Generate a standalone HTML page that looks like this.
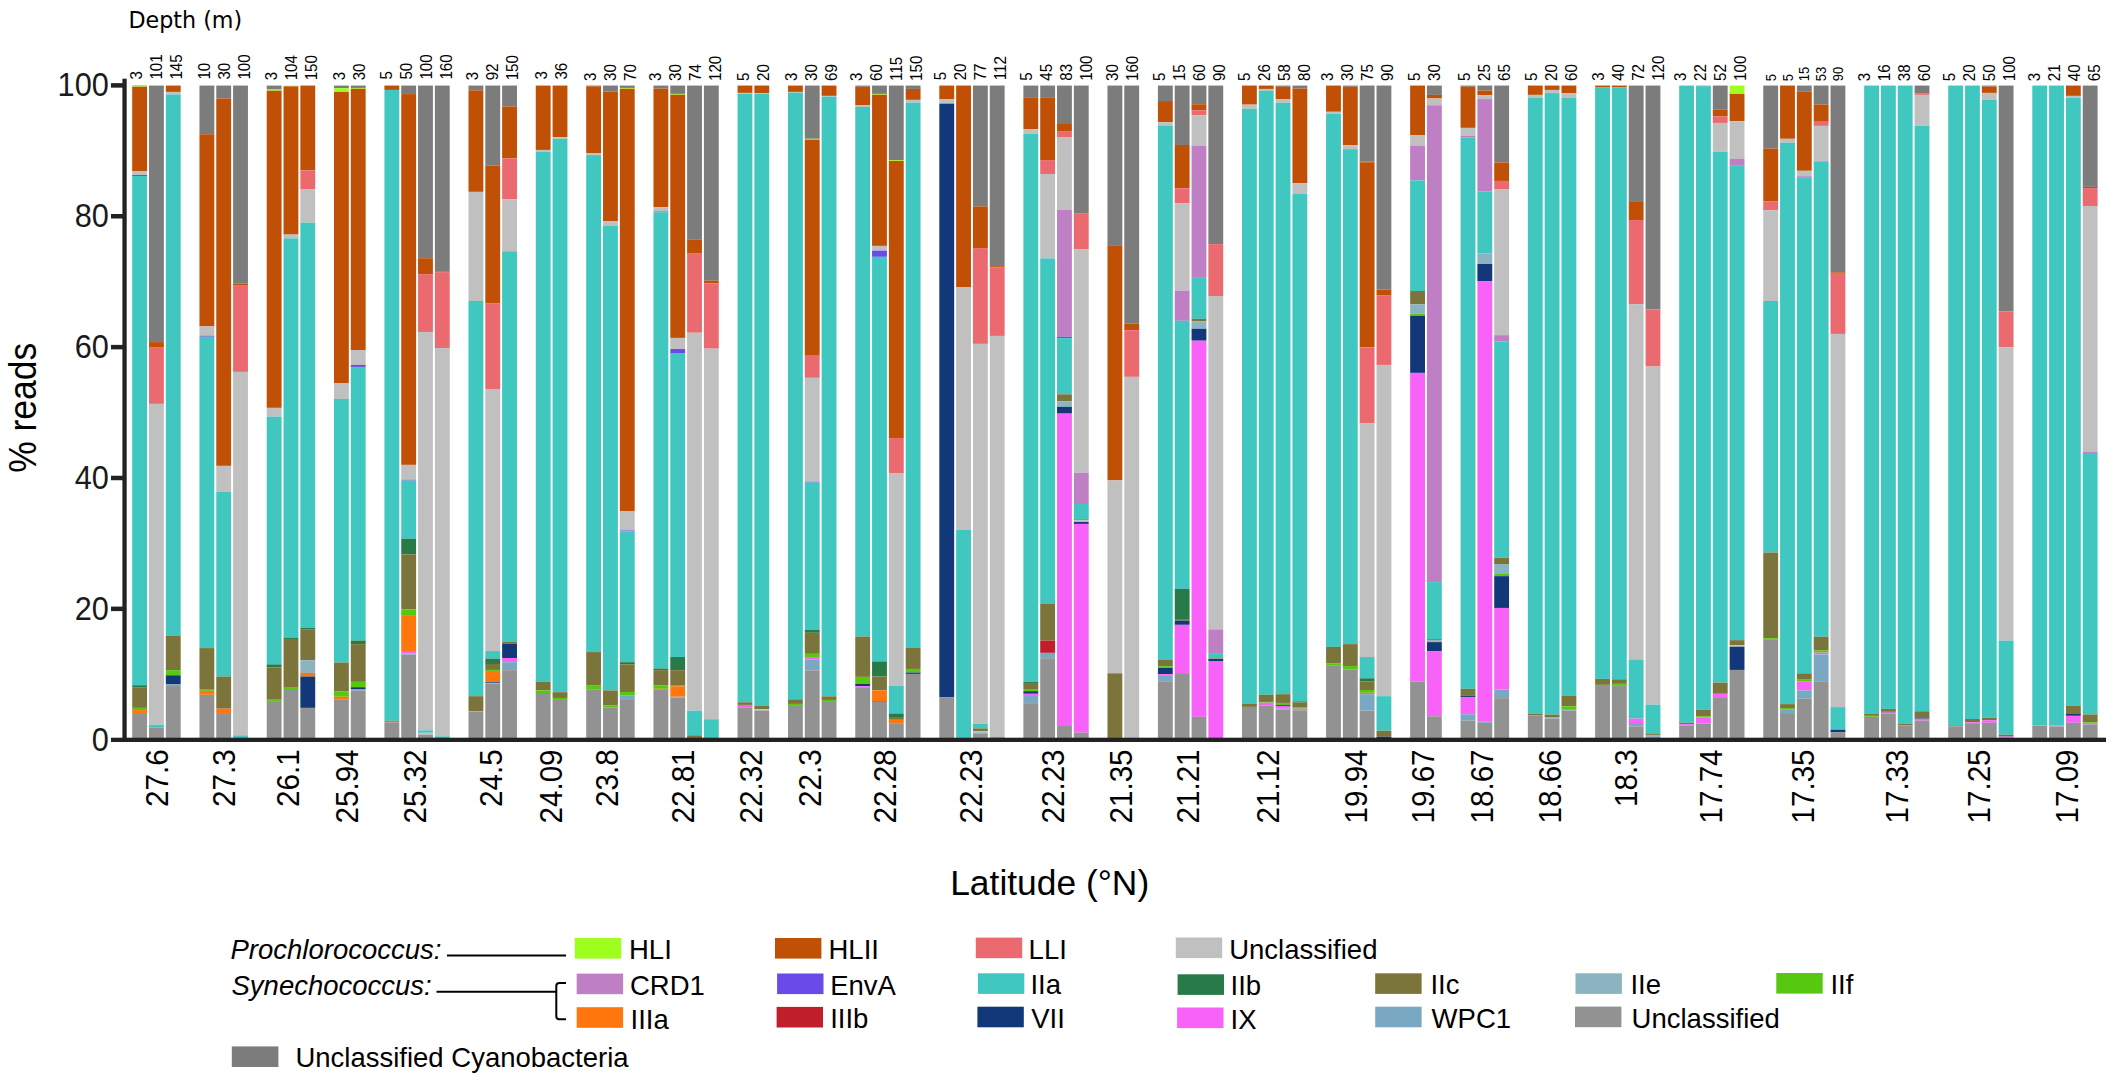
<!DOCTYPE html>
<html lang="en"><head><meta charset="utf-8"><title>Cyanobacteria clade composition by latitude</title>
<style>html,body{margin:0;padding:0;background:#fff}svg{display:block}text{font-family:"Liberation Sans",Arial,sans-serif;fill:#000}.dv{font-family:"DejaVu Sans","Liberation Sans",sans-serif}.it{font-style:italic}</style></head><body>
<svg width="2114" height="1082" viewBox="0 0 2114 1082">
<rect width="2114" height="1082" fill="#ffffff"/>
<g id="bars">
<rect x="132.20" y="85.56" width="14.85" height="0.60" fill="#7c7c7c"/>
<rect x="132.20" y="86.16" width="14.85" height="0.60" fill="#9eff1e"/>
<rect x="132.20" y="86.76" width="14.85" height="84.24" fill="#c05005"/>
<rect x="132.20" y="171.00" width="14.85" height="3.97" fill="#c0c0c0"/>
<rect x="132.20" y="174.97" width="14.85" height="0.99" fill="#6a4ae8"/>
<rect x="132.20" y="175.97" width="14.85" height="509.28" fill="#40c7bf"/>
<rect x="132.20" y="685.24" width="14.85" height="1.99" fill="#287a48"/>
<rect x="132.20" y="687.23" width="14.85" height="20.66" fill="#7b753c"/>
<rect x="132.20" y="707.89" width="14.85" height="2.19" fill="#55c80f"/>
<rect x="132.20" y="710.08" width="14.85" height="2.98" fill="#ff760d"/>
<rect x="132.20" y="713.06" width="14.85" height="26.94" fill="#929292"/>
<rect x="149.01" y="85.56" width="14.85" height="256.53" fill="#7c7c7c"/>
<rect x="149.01" y="342.09" width="14.85" height="4.97" fill="#c05005"/>
<rect x="149.01" y="347.06" width="14.85" height="56.82" fill="#ea6a70"/>
<rect x="149.01" y="403.88" width="14.85" height="320.89" fill="#c0c0c0"/>
<rect x="149.01" y="724.77" width="14.85" height="2.98" fill="#40c7bf"/>
<rect x="149.01" y="727.75" width="14.85" height="12.25" fill="#929292"/>
<rect x="165.83" y="85.56" width="14.85" height="6.36" fill="#c05005"/>
<rect x="165.83" y="91.92" width="14.85" height="2.58" fill="#c0c0c0"/>
<rect x="165.83" y="94.50" width="14.85" height="541.07" fill="#40c7bf"/>
<rect x="165.83" y="635.57" width="14.85" height="34.57" fill="#7b753c"/>
<rect x="165.83" y="670.14" width="14.85" height="5.17" fill="#55c80f"/>
<rect x="165.83" y="675.31" width="14.85" height="8.74" fill="#12387a"/>
<rect x="165.83" y="684.05" width="14.85" height="1.99" fill="#7aa7c2"/>
<rect x="165.83" y="686.04" width="14.85" height="53.96" fill="#929292"/>
<rect x="199.46" y="85.56" width="14.85" height="48.68" fill="#7c7c7c"/>
<rect x="199.46" y="134.24" width="14.85" height="192.15" fill="#c05005"/>
<rect x="199.46" y="326.39" width="14.85" height="9.34" fill="#c0c0c0"/>
<rect x="199.46" y="335.73" width="14.85" height="0.99" fill="#6a4ae8"/>
<rect x="199.46" y="336.72" width="14.85" height="311.36" fill="#40c7bf"/>
<rect x="199.46" y="648.09" width="14.85" height="40.93" fill="#7b753c"/>
<rect x="199.46" y="689.02" width="14.85" height="1.79" fill="#55c80f"/>
<rect x="199.46" y="690.81" width="14.85" height="3.97" fill="#ff760d"/>
<rect x="199.46" y="694.78" width="14.85" height="45.22" fill="#929292"/>
<rect x="216.27" y="85.56" width="14.85" height="12.91" fill="#7c7c7c"/>
<rect x="216.27" y="98.48" width="14.85" height="367.39" fill="#c05005"/>
<rect x="216.27" y="465.87" width="14.85" height="25.83" fill="#c0c0c0"/>
<rect x="216.27" y="491.70" width="14.85" height="184.80" fill="#40c7bf"/>
<rect x="216.27" y="676.50" width="14.85" height="32.19" fill="#7b753c"/>
<rect x="216.27" y="708.69" width="14.85" height="4.37" fill="#ff760d"/>
<rect x="216.27" y="713.06" width="14.85" height="26.94" fill="#929292"/>
<rect x="233.09" y="85.56" width="14.85" height="198.09" fill="#7c7c7c"/>
<rect x="233.09" y="283.66" width="14.85" height="1.39" fill="#c05005"/>
<rect x="233.09" y="285.05" width="14.85" height="86.85" fill="#ea6a70"/>
<rect x="233.09" y="371.89" width="14.85" height="363.41" fill="#c0c0c0"/>
<rect x="233.09" y="735.30" width="14.85" height="4.70" fill="#40c7bf"/>
<rect x="266.72" y="85.56" width="14.85" height="3.97" fill="#7c7c7c"/>
<rect x="266.72" y="89.54" width="14.85" height="1.19" fill="#9eff1e"/>
<rect x="266.72" y="90.73" width="14.85" height="317.13" fill="#c05005"/>
<rect x="266.72" y="407.86" width="14.85" height="8.74" fill="#c0c0c0"/>
<rect x="266.72" y="416.60" width="14.85" height="247.78" fill="#40c7bf"/>
<rect x="266.72" y="664.38" width="14.85" height="2.98" fill="#287a48"/>
<rect x="266.72" y="667.36" width="14.85" height="32.39" fill="#7b753c"/>
<rect x="266.72" y="699.75" width="14.85" height="1.19" fill="#55c80f"/>
<rect x="266.72" y="700.94" width="14.85" height="0.99" fill="#ff760d"/>
<rect x="266.72" y="701.93" width="14.85" height="38.07" fill="#929292"/>
<rect x="283.53" y="85.56" width="14.85" height="0.79" fill="#9eff1e"/>
<rect x="283.53" y="86.36" width="14.85" height="148.22" fill="#c05005"/>
<rect x="283.53" y="234.58" width="14.85" height="3.78" fill="#c0c0c0"/>
<rect x="283.53" y="238.35" width="14.85" height="399.20" fill="#40c7bf"/>
<rect x="283.53" y="637.56" width="14.85" height="1.39" fill="#287a48"/>
<rect x="283.53" y="638.95" width="14.85" height="48.08" fill="#7b753c"/>
<rect x="283.53" y="687.03" width="14.85" height="1.99" fill="#55c80f"/>
<rect x="283.53" y="689.02" width="14.85" height="50.98" fill="#929292"/>
<rect x="300.35" y="85.56" width="14.85" height="84.84" fill="#c05005"/>
<rect x="300.35" y="170.40" width="14.85" height="18.68" fill="#ea6a70"/>
<rect x="300.35" y="189.08" width="14.85" height="33.58" fill="#c0c0c0"/>
<rect x="300.35" y="222.66" width="14.85" height="405.16" fill="#40c7bf"/>
<rect x="300.35" y="627.82" width="14.85" height="1.39" fill="#287a48"/>
<rect x="300.35" y="629.21" width="14.85" height="31.00" fill="#7b753c"/>
<rect x="300.35" y="660.21" width="14.85" height="12.72" fill="#8bb3c0"/>
<rect x="300.35" y="672.92" width="14.85" height="3.58" fill="#ff760d"/>
<rect x="300.35" y="676.50" width="14.85" height="31.39" fill="#12387a"/>
<rect x="300.35" y="707.89" width="14.85" height="32.11" fill="#929292"/>
<rect x="333.98" y="85.56" width="14.85" height="2.58" fill="#7c7c7c"/>
<rect x="333.98" y="88.15" width="14.85" height="3.78" fill="#9eff1e"/>
<rect x="333.98" y="91.92" width="14.85" height="291.10" fill="#c05005"/>
<rect x="333.98" y="383.02" width="14.85" height="15.90" fill="#c0c0c0"/>
<rect x="333.98" y="398.91" width="14.85" height="263.68" fill="#40c7bf"/>
<rect x="333.98" y="662.59" width="14.85" height="28.61" fill="#7b753c"/>
<rect x="333.98" y="691.20" width="14.85" height="5.56" fill="#55c80f"/>
<rect x="333.98" y="696.77" width="14.85" height="2.98" fill="#ff760d"/>
<rect x="333.98" y="699.75" width="14.85" height="40.25" fill="#929292"/>
<rect x="350.80" y="85.56" width="14.85" height="2.38" fill="#7c7c7c"/>
<rect x="350.80" y="87.95" width="14.85" height="0.79" fill="#9eff1e"/>
<rect x="350.80" y="88.74" width="14.85" height="261.29" fill="#c05005"/>
<rect x="350.80" y="350.04" width="14.85" height="14.90" fill="#c0c0c0"/>
<rect x="350.80" y="364.94" width="14.85" height="1.99" fill="#6a4ae8"/>
<rect x="350.80" y="366.93" width="14.85" height="273.61" fill="#40c7bf"/>
<rect x="350.80" y="640.54" width="14.85" height="3.58" fill="#287a48"/>
<rect x="350.80" y="644.11" width="14.85" height="37.75" fill="#7b753c"/>
<rect x="350.80" y="681.87" width="14.85" height="5.36" fill="#55c80f"/>
<rect x="350.80" y="687.23" width="14.85" height="1.79" fill="#12387a"/>
<rect x="350.80" y="689.02" width="14.85" height="1.39" fill="#7aa7c2"/>
<rect x="350.80" y="690.41" width="14.85" height="49.59" fill="#929292"/>
<rect x="384.43" y="85.56" width="14.85" height="4.37" fill="#c05005"/>
<rect x="384.43" y="89.93" width="14.85" height="630.86" fill="#40c7bf"/>
<rect x="384.43" y="720.80" width="14.85" height="0.99" fill="#7b753c"/>
<rect x="384.43" y="721.79" width="14.85" height="0.60" fill="#ff760d"/>
<rect x="384.43" y="722.39" width="14.85" height="17.61" fill="#929292"/>
<rect x="401.24" y="85.56" width="14.85" height="8.54" fill="#7c7c7c"/>
<rect x="401.24" y="94.11" width="14.85" height="370.77" fill="#c05005"/>
<rect x="401.24" y="464.88" width="14.85" height="14.90" fill="#c0c0c0"/>
<rect x="401.24" y="479.78" width="14.85" height="0.79" fill="#6a4ae8"/>
<rect x="401.24" y="480.58" width="14.85" height="58.23" fill="#40c7bf"/>
<rect x="401.24" y="538.81" width="14.85" height="15.50" fill="#287a48"/>
<rect x="401.24" y="554.31" width="14.85" height="55.04" fill="#7b753c"/>
<rect x="401.24" y="609.34" width="14.85" height="5.76" fill="#55c80f"/>
<rect x="401.24" y="615.11" width="14.85" height="36.76" fill="#ff760d"/>
<rect x="401.24" y="651.86" width="14.85" height="1.59" fill="#f962f8"/>
<rect x="401.24" y="653.45" width="14.85" height="1.19" fill="#7aa7c2"/>
<rect x="401.24" y="654.65" width="14.85" height="85.35" fill="#929292"/>
<rect x="418.06" y="85.56" width="14.85" height="172.66" fill="#7c7c7c"/>
<rect x="418.06" y="258.22" width="14.85" height="15.90" fill="#c05005"/>
<rect x="418.06" y="274.12" width="14.85" height="57.84" fill="#ea6a70"/>
<rect x="418.06" y="331.96" width="14.85" height="398.38" fill="#c0c0c0"/>
<rect x="418.06" y="730.33" width="14.85" height="2.38" fill="#40c7bf"/>
<rect x="418.06" y="732.72" width="14.85" height="0.99" fill="#8bb3c0"/>
<rect x="418.06" y="733.71" width="14.85" height="0.99" fill="#c0c0c0"/>
<rect x="418.06" y="734.70" width="14.85" height="5.30" fill="#929292"/>
<rect x="434.87" y="85.56" width="14.85" height="185.77" fill="#7c7c7c"/>
<rect x="434.87" y="271.34" width="14.85" height="0.79" fill="#c05005"/>
<rect x="434.87" y="272.13" width="14.85" height="75.92" fill="#ea6a70"/>
<rect x="434.87" y="348.05" width="14.85" height="388.24" fill="#c0c0c0"/>
<rect x="434.87" y="736.29" width="14.85" height="3.71" fill="#40c7bf"/>
<rect x="468.50" y="85.56" width="14.85" height="4.77" fill="#7c7c7c"/>
<rect x="468.50" y="90.33" width="14.85" height="101.53" fill="#c05005"/>
<rect x="468.50" y="191.86" width="14.85" height="109.10" fill="#c0c0c0"/>
<rect x="468.50" y="300.96" width="14.85" height="395.21" fill="#40c7bf"/>
<rect x="468.50" y="696.17" width="14.85" height="15.10" fill="#7b753c"/>
<rect x="468.50" y="711.27" width="14.85" height="0.60" fill="#7aa7c2"/>
<rect x="468.50" y="711.87" width="14.85" height="28.13" fill="#929292"/>
<rect x="485.31" y="85.56" width="14.85" height="79.87" fill="#7c7c7c"/>
<rect x="485.31" y="165.44" width="14.85" height="137.71" fill="#c05005"/>
<rect x="485.31" y="303.15" width="14.85" height="85.83" fill="#ea6a70"/>
<rect x="485.31" y="388.98" width="14.85" height="262.09" fill="#c0c0c0"/>
<rect x="485.31" y="651.07" width="14.85" height="7.55" fill="#40c7bf"/>
<rect x="485.31" y="658.62" width="14.85" height="5.36" fill="#287a48"/>
<rect x="485.31" y="663.98" width="14.85" height="5.96" fill="#7b753c"/>
<rect x="485.31" y="669.94" width="14.85" height="0.99" fill="#55c80f"/>
<rect x="485.31" y="670.94" width="14.85" height="11.13" fill="#ff760d"/>
<rect x="485.31" y="682.06" width="14.85" height="0.79" fill="#12387a"/>
<rect x="485.31" y="682.86" width="14.85" height="0.79" fill="#7aa7c2"/>
<rect x="485.31" y="683.65" width="14.85" height="56.35" fill="#929292"/>
<rect x="502.13" y="85.56" width="14.85" height="20.86" fill="#7c7c7c"/>
<rect x="502.13" y="106.43" width="14.85" height="52.06" fill="#c05005"/>
<rect x="502.13" y="158.48" width="14.85" height="40.73" fill="#ea6a70"/>
<rect x="502.13" y="199.21" width="14.85" height="52.06" fill="#c0c0c0"/>
<rect x="502.13" y="251.27" width="14.85" height="390.26" fill="#40c7bf"/>
<rect x="502.13" y="641.53" width="14.85" height="2.19" fill="#7b753c"/>
<rect x="502.13" y="643.72" width="14.85" height="14.31" fill="#12387a"/>
<rect x="502.13" y="658.02" width="14.85" height="4.17" fill="#f962f8"/>
<rect x="502.13" y="662.20" width="14.85" height="7.95" fill="#7aa7c2"/>
<rect x="502.13" y="670.14" width="14.85" height="69.86" fill="#929292"/>
<rect x="535.76" y="85.56" width="14.85" height="64.38" fill="#c05005"/>
<rect x="535.76" y="149.94" width="14.85" height="1.99" fill="#c0c0c0"/>
<rect x="535.76" y="151.93" width="14.85" height="529.74" fill="#40c7bf"/>
<rect x="535.76" y="681.67" width="14.85" height="8.74" fill="#7b753c"/>
<rect x="535.76" y="690.41" width="14.85" height="2.58" fill="#55c80f"/>
<rect x="535.76" y="692.99" width="14.85" height="47.01" fill="#929292"/>
<rect x="552.58" y="85.56" width="14.85" height="51.66" fill="#c05005"/>
<rect x="552.58" y="137.22" width="14.85" height="1.39" fill="#c0c0c0"/>
<rect x="552.58" y="138.61" width="14.85" height="553.58" fill="#40c7bf"/>
<rect x="552.58" y="692.20" width="14.85" height="5.76" fill="#7b753c"/>
<rect x="552.58" y="697.96" width="14.85" height="1.99" fill="#55c80f"/>
<rect x="552.58" y="699.95" width="14.85" height="40.05" fill="#929292"/>
<rect x="586.21" y="85.56" width="14.85" height="0.79" fill="#7c7c7c"/>
<rect x="586.21" y="86.36" width="14.85" height="66.76" fill="#c05005"/>
<rect x="586.21" y="153.12" width="14.85" height="1.99" fill="#c0c0c0"/>
<rect x="586.21" y="155.10" width="14.85" height="496.96" fill="#40c7bf"/>
<rect x="586.21" y="652.06" width="14.85" height="33.58" fill="#7b753c"/>
<rect x="586.21" y="685.64" width="14.85" height="3.58" fill="#55c80f"/>
<rect x="586.21" y="689.22" width="14.85" height="50.78" fill="#929292"/>
<rect x="603.02" y="85.56" width="14.85" height="5.96" fill="#7c7c7c"/>
<rect x="603.02" y="91.52" width="14.85" height="129.55" fill="#c05005"/>
<rect x="603.02" y="221.07" width="14.85" height="4.57" fill="#c0c0c0"/>
<rect x="603.02" y="225.64" width="14.85" height="464.77" fill="#40c7bf"/>
<rect x="603.02" y="690.41" width="14.85" height="15.10" fill="#7b753c"/>
<rect x="603.02" y="705.51" width="14.85" height="1.79" fill="#55c80f"/>
<rect x="603.02" y="707.30" width="14.85" height="32.70" fill="#929292"/>
<rect x="619.84" y="85.56" width="14.85" height="2.38" fill="#7c7c7c"/>
<rect x="619.84" y="87.95" width="14.85" height="0.79" fill="#9eff1e"/>
<rect x="619.84" y="88.74" width="14.85" height="422.25" fill="#c05005"/>
<rect x="619.84" y="510.99" width="14.85" height="19.47" fill="#c0c0c0"/>
<rect x="619.84" y="530.46" width="14.85" height="0.79" fill="#6a4ae8"/>
<rect x="619.84" y="531.26" width="14.85" height="130.94" fill="#40c7bf"/>
<rect x="619.84" y="662.20" width="14.85" height="2.19" fill="#287a48"/>
<rect x="619.84" y="664.38" width="14.85" height="27.62" fill="#7b753c"/>
<rect x="619.84" y="692.00" width="14.85" height="3.18" fill="#55c80f"/>
<rect x="619.84" y="695.18" width="14.85" height="3.97" fill="#7aa7c2"/>
<rect x="619.84" y="699.15" width="14.85" height="40.85" fill="#929292"/>
<rect x="653.46" y="85.56" width="14.85" height="2.98" fill="#7c7c7c"/>
<rect x="653.46" y="88.54" width="14.85" height="118.62" fill="#c05005"/>
<rect x="653.46" y="207.16" width="14.85" height="4.37" fill="#c0c0c0"/>
<rect x="653.46" y="211.53" width="14.85" height="0.79" fill="#6a4ae8"/>
<rect x="653.46" y="212.33" width="14.85" height="456.23" fill="#40c7bf"/>
<rect x="653.46" y="668.55" width="14.85" height="1.59" fill="#287a48"/>
<rect x="653.46" y="670.14" width="14.85" height="15.10" fill="#7b753c"/>
<rect x="653.46" y="685.24" width="14.85" height="3.58" fill="#55c80f"/>
<rect x="653.46" y="688.82" width="14.85" height="0.99" fill="#ff760d"/>
<rect x="653.46" y="689.81" width="14.85" height="50.19" fill="#929292"/>
<rect x="670.28" y="85.56" width="14.85" height="8.34" fill="#7c7c7c"/>
<rect x="670.28" y="93.91" width="14.85" height="0.79" fill="#9eff1e"/>
<rect x="670.28" y="94.70" width="14.85" height="243.21" fill="#c05005"/>
<rect x="670.28" y="337.92" width="14.85" height="11.13" fill="#c0c0c0"/>
<rect x="670.28" y="349.04" width="14.85" height="3.97" fill="#6a4ae8"/>
<rect x="670.28" y="353.02" width="14.85" height="304.01" fill="#40c7bf"/>
<rect x="670.28" y="657.03" width="14.85" height="13.11" fill="#287a48"/>
<rect x="670.28" y="670.14" width="14.85" height="14.90" fill="#7b753c"/>
<rect x="670.28" y="685.04" width="14.85" height="1.19" fill="#55c80f"/>
<rect x="670.28" y="686.24" width="14.85" height="10.53" fill="#ff760d"/>
<rect x="670.28" y="696.77" width="14.85" height="0.79" fill="#7aa7c2"/>
<rect x="670.28" y="697.56" width="14.85" height="42.44" fill="#929292"/>
<rect x="687.10" y="85.56" width="14.85" height="153.79" fill="#7c7c7c"/>
<rect x="687.10" y="239.35" width="14.85" height="13.71" fill="#c05005"/>
<rect x="687.10" y="253.06" width="14.85" height="79.69" fill="#ea6a70"/>
<rect x="687.10" y="332.75" width="14.85" height="377.92" fill="#c0c0c0"/>
<rect x="687.10" y="710.68" width="14.85" height="24.63" fill="#40c7bf"/>
<rect x="687.10" y="735.30" width="14.85" height="4.70" fill="#7b753c"/>
<rect x="703.91" y="85.56" width="14.85" height="195.11" fill="#7c7c7c"/>
<rect x="703.91" y="280.68" width="14.85" height="2.58" fill="#c05005"/>
<rect x="703.91" y="283.26" width="14.85" height="65.39" fill="#ea6a70"/>
<rect x="703.91" y="348.65" width="14.85" height="370.57" fill="#c0c0c0"/>
<rect x="703.91" y="719.22" width="14.85" height="20.78" fill="#40c7bf"/>
<rect x="737.54" y="85.56" width="14.85" height="7.35" fill="#c05005"/>
<rect x="737.54" y="92.91" width="14.85" height="0.79" fill="#c0c0c0"/>
<rect x="737.54" y="93.71" width="14.85" height="608.61" fill="#40c7bf"/>
<rect x="737.54" y="702.32" width="14.85" height="2.58" fill="#7b753c"/>
<rect x="737.54" y="704.90" width="14.85" height="0.99" fill="#55c80f"/>
<rect x="737.54" y="705.90" width="14.85" height="1.39" fill="#f962f8"/>
<rect x="737.54" y="707.29" width="14.85" height="32.71" fill="#929292"/>
<rect x="754.36" y="85.56" width="14.85" height="7.55" fill="#c05005"/>
<rect x="754.36" y="93.11" width="14.85" height="0.79" fill="#c0c0c0"/>
<rect x="754.36" y="93.91" width="14.85" height="611.99" fill="#40c7bf"/>
<rect x="754.36" y="705.90" width="14.85" height="3.38" fill="#7b753c"/>
<rect x="754.36" y="709.27" width="14.85" height="1.19" fill="#c0c0c0"/>
<rect x="754.36" y="710.46" width="14.85" height="29.54" fill="#929292"/>
<rect x="787.99" y="85.56" width="14.85" height="6.36" fill="#c05005"/>
<rect x="787.99" y="91.92" width="14.85" height="0.79" fill="#c0c0c0"/>
<rect x="787.99" y="92.72" width="14.85" height="606.62" fill="#40c7bf"/>
<rect x="787.99" y="699.34" width="14.85" height="4.57" fill="#7b753c"/>
<rect x="787.99" y="703.91" width="14.85" height="1.99" fill="#55c80f"/>
<rect x="787.99" y="705.90" width="14.85" height="34.10" fill="#929292"/>
<rect x="804.80" y="85.56" width="14.85" height="53.25" fill="#7c7c7c"/>
<rect x="804.80" y="138.81" width="14.85" height="0.79" fill="#9eff1e"/>
<rect x="804.80" y="139.61" width="14.85" height="215.40" fill="#c05005"/>
<rect x="804.80" y="355.00" width="14.85" height="22.85" fill="#ea6a70"/>
<rect x="804.80" y="377.85" width="14.85" height="103.91" fill="#c0c0c0"/>
<rect x="804.80" y="481.77" width="14.85" height="0.79" fill="#6a4ae8"/>
<rect x="804.80" y="482.56" width="14.85" height="147.45" fill="#40c7bf"/>
<rect x="804.80" y="630.01" width="14.85" height="2.78" fill="#287a48"/>
<rect x="804.80" y="632.79" width="14.85" height="21.06" fill="#7b753c"/>
<rect x="804.80" y="653.85" width="14.85" height="3.18" fill="#55c80f"/>
<rect x="804.80" y="657.03" width="14.85" height="2.38" fill="#f962f8"/>
<rect x="804.80" y="659.41" width="14.85" height="10.93" fill="#7aa7c2"/>
<rect x="804.80" y="670.34" width="14.85" height="69.66" fill="#929292"/>
<rect x="821.62" y="85.56" width="14.85" height="10.33" fill="#c05005"/>
<rect x="821.62" y="95.90" width="14.85" height="0.79" fill="#c0c0c0"/>
<rect x="821.62" y="96.69" width="14.85" height="599.67" fill="#40c7bf"/>
<rect x="821.62" y="696.36" width="14.85" height="3.58" fill="#7b753c"/>
<rect x="821.62" y="699.93" width="14.85" height="1.99" fill="#55c80f"/>
<rect x="821.62" y="701.92" width="14.85" height="38.08" fill="#929292"/>
<rect x="855.25" y="85.56" width="14.85" height="1.19" fill="#7c7c7c"/>
<rect x="855.25" y="86.76" width="14.85" height="18.28" fill="#c05005"/>
<rect x="855.25" y="105.03" width="14.85" height="1.79" fill="#c0c0c0"/>
<rect x="855.25" y="106.82" width="14.85" height="529.74" fill="#40c7bf"/>
<rect x="855.25" y="636.56" width="14.85" height="40.33" fill="#7b753c"/>
<rect x="855.25" y="676.90" width="14.85" height="6.95" fill="#55c80f"/>
<rect x="855.25" y="683.85" width="14.85" height="2.38" fill="#12387a"/>
<rect x="855.25" y="686.24" width="14.85" height="0.99" fill="#f962f8"/>
<rect x="855.25" y="687.23" width="14.85" height="52.77" fill="#929292"/>
<rect x="872.06" y="85.56" width="14.85" height="8.34" fill="#7c7c7c"/>
<rect x="872.06" y="93.91" width="14.85" height="0.79" fill="#9eff1e"/>
<rect x="872.06" y="94.70" width="14.85" height="151.20" fill="#c05005"/>
<rect x="872.06" y="245.91" width="14.85" height="4.77" fill="#c0c0c0"/>
<rect x="872.06" y="250.67" width="14.85" height="6.16" fill="#6a4ae8"/>
<rect x="872.06" y="256.83" width="14.85" height="404.57" fill="#40c7bf"/>
<rect x="872.06" y="661.40" width="14.85" height="15.10" fill="#287a48"/>
<rect x="872.06" y="676.50" width="14.85" height="13.91" fill="#7b753c"/>
<rect x="872.06" y="690.41" width="14.85" height="10.73" fill="#ff760d"/>
<rect x="872.06" y="701.14" width="14.85" height="0.79" fill="#6a4ae8"/>
<rect x="872.06" y="701.93" width="14.85" height="38.07" fill="#929292"/>
<rect x="888.88" y="85.56" width="14.85" height="74.51" fill="#7c7c7c"/>
<rect x="888.88" y="160.07" width="14.85" height="0.79" fill="#9eff1e"/>
<rect x="888.88" y="160.87" width="14.85" height="277.19" fill="#c05005"/>
<rect x="888.88" y="438.06" width="14.85" height="34.97" fill="#ea6a70"/>
<rect x="888.88" y="473.03" width="14.85" height="212.62" fill="#c0c0c0"/>
<rect x="888.88" y="685.64" width="14.85" height="27.82" fill="#40c7bf"/>
<rect x="888.88" y="713.46" width="14.85" height="3.58" fill="#287a48"/>
<rect x="888.88" y="717.03" width="14.85" height="2.78" fill="#7b753c"/>
<rect x="888.88" y="719.82" width="14.85" height="3.97" fill="#ff760d"/>
<rect x="888.88" y="723.79" width="14.85" height="16.21" fill="#929292"/>
<rect x="905.69" y="85.56" width="14.85" height="3.38" fill="#7c7c7c"/>
<rect x="905.69" y="88.94" width="14.85" height="10.93" fill="#c05005"/>
<rect x="905.69" y="99.87" width="14.85" height="2.78" fill="#c0c0c0"/>
<rect x="905.69" y="102.65" width="14.85" height="544.84" fill="#40c7bf"/>
<rect x="905.69" y="647.49" width="14.85" height="21.46" fill="#7b753c"/>
<rect x="905.69" y="668.95" width="14.85" height="3.58" fill="#55c80f"/>
<rect x="905.69" y="672.53" width="14.85" height="1.39" fill="#12387a"/>
<rect x="905.69" y="673.92" width="14.85" height="66.08" fill="#929292"/>
<rect x="939.32" y="85.56" width="14.85" height="13.51" fill="#c05005"/>
<rect x="939.32" y="99.07" width="14.85" height="3.78" fill="#c0c0c0"/>
<rect x="939.32" y="102.85" width="14.85" height="0.99" fill="#40c7bf"/>
<rect x="939.32" y="103.84" width="14.85" height="593.32" fill="#12387a"/>
<rect x="939.32" y="697.16" width="14.85" height="42.84" fill="#929292"/>
<rect x="956.13" y="85.56" width="14.85" height="201.47" fill="#c05005"/>
<rect x="956.13" y="287.03" width="14.85" height="242.84" fill="#c0c0c0"/>
<rect x="956.13" y="529.87" width="14.85" height="210.13" fill="#40c7bf"/>
<rect x="972.95" y="85.56" width="14.85" height="120.80" fill="#7c7c7c"/>
<rect x="972.95" y="206.37" width="14.85" height="41.72" fill="#c05005"/>
<rect x="972.95" y="248.09" width="14.85" height="95.79" fill="#ea6a70"/>
<rect x="972.95" y="343.88" width="14.85" height="379.90" fill="#c0c0c0"/>
<rect x="972.95" y="723.78" width="14.85" height="4.57" fill="#40c7bf"/>
<rect x="972.95" y="728.35" width="14.85" height="2.78" fill="#7b753c"/>
<rect x="972.95" y="731.13" width="14.85" height="1.19" fill="#c0c0c0"/>
<rect x="972.95" y="732.32" width="14.85" height="1.39" fill="#7aa7c2"/>
<rect x="972.95" y="733.71" width="14.85" height="6.29" fill="#929292"/>
<rect x="989.77" y="85.56" width="14.85" height="180.61" fill="#7c7c7c"/>
<rect x="989.77" y="266.17" width="14.85" height="0.99" fill="#c05005"/>
<rect x="989.77" y="267.16" width="14.85" height="68.77" fill="#ea6a70"/>
<rect x="989.77" y="335.93" width="14.85" height="401.16" fill="#c0c0c0"/>
<rect x="989.77" y="737.09" width="14.85" height="2.91" fill="#40c7bf"/>
<rect x="1023.39" y="85.56" width="14.85" height="12.32" fill="#7c7c7c"/>
<rect x="1023.39" y="97.88" width="14.85" height="31.39" fill="#c05005"/>
<rect x="1023.39" y="129.27" width="14.85" height="4.57" fill="#c0c0c0"/>
<rect x="1023.39" y="133.84" width="14.85" height="548.22" fill="#40c7bf"/>
<rect x="1023.39" y="682.06" width="14.85" height="1.79" fill="#287a48"/>
<rect x="1023.39" y="683.85" width="14.85" height="5.17" fill="#7b753c"/>
<rect x="1023.39" y="689.02" width="14.85" height="2.19" fill="#55c80f"/>
<rect x="1023.39" y="691.20" width="14.85" height="2.58" fill="#12387a"/>
<rect x="1023.39" y="693.79" width="14.85" height="2.19" fill="#f962f8"/>
<rect x="1023.39" y="695.97" width="14.85" height="7.95" fill="#7aa7c2"/>
<rect x="1023.39" y="703.92" width="14.85" height="36.08" fill="#929292"/>
<rect x="1040.21" y="85.56" width="14.85" height="12.32" fill="#7c7c7c"/>
<rect x="1040.21" y="97.88" width="14.85" height="62.19" fill="#c05005"/>
<rect x="1040.21" y="160.07" width="14.85" height="13.91" fill="#ea6a70"/>
<rect x="1040.21" y="173.98" width="14.85" height="84.44" fill="#c0c0c0"/>
<rect x="1040.21" y="258.42" width="14.85" height="345.56" fill="#40c7bf"/>
<rect x="1040.21" y="603.98" width="14.85" height="36.56" fill="#7b753c"/>
<rect x="1040.21" y="640.54" width="14.85" height="12.32" fill="#c01e2b"/>
<rect x="1040.21" y="652.86" width="14.85" height="5.36" fill="#7aa7c2"/>
<rect x="1040.21" y="658.22" width="14.85" height="81.78" fill="#929292"/>
<rect x="1057.03" y="85.56" width="14.85" height="37.55" fill="#7c7c7c"/>
<rect x="1057.03" y="123.12" width="14.85" height="7.95" fill="#c05005"/>
<rect x="1057.03" y="131.06" width="14.85" height="5.96" fill="#ea6a70"/>
<rect x="1057.03" y="137.02" width="14.85" height="72.72" fill="#c0c0c0"/>
<rect x="1057.03" y="209.74" width="14.85" height="126.98" fill="#bf7fc4"/>
<rect x="1057.03" y="336.72" width="14.85" height="1.39" fill="#6a4ae8"/>
<rect x="1057.03" y="338.12" width="14.85" height="56.23" fill="#40c7bf"/>
<rect x="1057.03" y="394.34" width="14.85" height="6.95" fill="#7b753c"/>
<rect x="1057.03" y="401.30" width="14.85" height="5.56" fill="#8bb3c0"/>
<rect x="1057.03" y="406.86" width="14.85" height="6.76" fill="#12387a"/>
<rect x="1057.03" y="413.62" width="14.85" height="311.55" fill="#f962f8"/>
<rect x="1057.03" y="725.17" width="14.85" height="14.83" fill="#929292"/>
<rect x="1073.84" y="85.56" width="14.85" height="127.56" fill="#7c7c7c"/>
<rect x="1073.84" y="213.12" width="14.85" height="35.96" fill="#ea6a70"/>
<rect x="1073.84" y="249.08" width="14.85" height="223.74" fill="#c0c0c0"/>
<rect x="1073.84" y="472.83" width="14.85" height="31.19" fill="#bf7fc4"/>
<rect x="1073.84" y="504.02" width="14.85" height="15.32" fill="#40c7bf"/>
<rect x="1073.84" y="519.34" width="14.85" height="0.99" fill="#7b753c"/>
<rect x="1073.84" y="520.33" width="14.85" height="1.59" fill="#c0c0c0"/>
<rect x="1073.84" y="521.92" width="14.85" height="1.99" fill="#12387a"/>
<rect x="1073.84" y="523.91" width="14.85" height="208.81" fill="#f962f8"/>
<rect x="1073.84" y="732.72" width="14.85" height="7.28" fill="#929292"/>
<rect x="1107.47" y="85.56" width="14.85" height="160.34" fill="#7c7c7c"/>
<rect x="1107.47" y="245.91" width="14.85" height="234.47" fill="#c05005"/>
<rect x="1107.47" y="480.38" width="14.85" height="192.95" fill="#c0c0c0"/>
<rect x="1107.47" y="673.32" width="14.85" height="66.68" fill="#7b753c"/>
<rect x="1124.29" y="85.56" width="14.85" height="237.85" fill="#7c7c7c"/>
<rect x="1124.29" y="323.41" width="14.85" height="6.76" fill="#c05005"/>
<rect x="1124.29" y="330.17" width="14.85" height="46.69" fill="#ea6a70"/>
<rect x="1124.29" y="376.86" width="14.85" height="363.14" fill="#c0c0c0"/>
<rect x="1157.92" y="85.56" width="14.85" height="15.50" fill="#7c7c7c"/>
<rect x="1157.92" y="101.06" width="14.85" height="21.06" fill="#c05005"/>
<rect x="1157.92" y="122.12" width="14.85" height="3.38" fill="#c0c0c0"/>
<rect x="1157.92" y="125.50" width="14.85" height="534.51" fill="#40c7bf"/>
<rect x="1157.92" y="660.01" width="14.85" height="6.16" fill="#7b753c"/>
<rect x="1157.92" y="666.17" width="14.85" height="1.79" fill="#55c80f"/>
<rect x="1157.92" y="667.96" width="14.85" height="6.16" fill="#12387a"/>
<rect x="1157.92" y="674.12" width="14.85" height="1.79" fill="#f962f8"/>
<rect x="1157.92" y="675.91" width="14.85" height="5.36" fill="#7aa7c2"/>
<rect x="1157.92" y="681.27" width="14.85" height="58.73" fill="#929292"/>
<rect x="1174.73" y="85.56" width="14.85" height="59.41" fill="#7c7c7c"/>
<rect x="1174.73" y="144.97" width="14.85" height="43.31" fill="#c05005"/>
<rect x="1174.73" y="188.29" width="14.85" height="14.90" fill="#ea6a70"/>
<rect x="1174.73" y="203.19" width="14.85" height="87.42" fill="#c0c0c0"/>
<rect x="1174.73" y="290.61" width="14.85" height="30.22" fill="#bf7fc4"/>
<rect x="1174.73" y="320.83" width="14.85" height="268.05" fill="#40c7bf"/>
<rect x="1174.73" y="588.88" width="14.85" height="30.20" fill="#287a48"/>
<rect x="1174.73" y="619.08" width="14.85" height="1.59" fill="#7b753c"/>
<rect x="1174.73" y="620.67" width="14.85" height="4.17" fill="#12387a"/>
<rect x="1174.73" y="624.84" width="14.85" height="48.28" fill="#f962f8"/>
<rect x="1174.73" y="673.12" width="14.85" height="66.88" fill="#929292"/>
<rect x="1191.55" y="85.56" width="14.85" height="18.68" fill="#7c7c7c"/>
<rect x="1191.55" y="104.24" width="14.85" height="5.96" fill="#c05005"/>
<rect x="1191.55" y="110.20" width="14.85" height="4.97" fill="#ea6a70"/>
<rect x="1191.55" y="115.17" width="14.85" height="30.80" fill="#c0c0c0"/>
<rect x="1191.55" y="145.96" width="14.85" height="131.13" fill="#bf7fc4"/>
<rect x="1191.55" y="277.10" width="14.85" height="41.74" fill="#40c7bf"/>
<rect x="1191.55" y="318.84" width="14.85" height="2.58" fill="#7b753c"/>
<rect x="1191.55" y="321.43" width="14.85" height="7.35" fill="#8bb3c0"/>
<rect x="1191.55" y="328.78" width="14.85" height="11.92" fill="#12387a"/>
<rect x="1191.55" y="340.70" width="14.85" height="376.14" fill="#f962f8"/>
<rect x="1191.55" y="716.83" width="14.85" height="23.17" fill="#929292"/>
<rect x="1208.36" y="85.56" width="14.85" height="158.55" fill="#7c7c7c"/>
<rect x="1208.36" y="244.12" width="14.85" height="51.88" fill="#ea6a70"/>
<rect x="1208.36" y="295.99" width="14.85" height="333.42" fill="#c0c0c0"/>
<rect x="1208.36" y="629.41" width="14.85" height="23.64" fill="#bf7fc4"/>
<rect x="1208.36" y="653.06" width="14.85" height="5.36" fill="#40c7bf"/>
<rect x="1208.36" y="658.42" width="14.85" height="0.60" fill="#7b753c"/>
<rect x="1208.36" y="659.02" width="14.85" height="1.99" fill="#12387a"/>
<rect x="1208.36" y="661.00" width="14.85" height="76.09" fill="#f962f8"/>
<rect x="1208.36" y="737.09" width="14.85" height="2.91" fill="#929292"/>
<rect x="1241.99" y="85.56" width="14.85" height="19.07" fill="#c05005"/>
<rect x="1241.99" y="104.64" width="14.85" height="4.17" fill="#c0c0c0"/>
<rect x="1241.99" y="108.81" width="14.85" height="595.11" fill="#40c7bf"/>
<rect x="1241.99" y="703.92" width="14.85" height="2.98" fill="#7b753c"/>
<rect x="1241.99" y="706.90" width="14.85" height="33.10" fill="#929292"/>
<rect x="1258.81" y="85.56" width="14.85" height="3.38" fill="#c05005"/>
<rect x="1258.81" y="88.94" width="14.85" height="1.59" fill="#c0c0c0"/>
<rect x="1258.81" y="90.53" width="14.85" height="604.25" fill="#40c7bf"/>
<rect x="1258.81" y="694.78" width="14.85" height="7.15" fill="#7b753c"/>
<rect x="1258.81" y="701.93" width="14.85" height="0.79" fill="#55c80f"/>
<rect x="1258.81" y="702.73" width="14.85" height="2.98" fill="#f962f8"/>
<rect x="1258.81" y="705.71" width="14.85" height="34.29" fill="#929292"/>
<rect x="1275.62" y="85.56" width="14.85" height="1.19" fill="#7c7c7c"/>
<rect x="1275.62" y="86.76" width="14.85" height="12.32" fill="#c05005"/>
<rect x="1275.62" y="99.07" width="14.85" height="3.78" fill="#c0c0c0"/>
<rect x="1275.62" y="102.85" width="14.85" height="591.34" fill="#40c7bf"/>
<rect x="1275.62" y="694.18" width="14.85" height="8.74" fill="#7b753c"/>
<rect x="1275.62" y="702.93" width="14.85" height="1.99" fill="#55c80f"/>
<rect x="1275.62" y="704.91" width="14.85" height="0.99" fill="#12387a"/>
<rect x="1275.62" y="705.91" width="14.85" height="2.78" fill="#f962f8"/>
<rect x="1275.62" y="708.69" width="14.85" height="0.79" fill="#7aa7c2"/>
<rect x="1275.62" y="709.48" width="14.85" height="30.52" fill="#929292"/>
<rect x="1292.44" y="85.56" width="14.85" height="2.98" fill="#7c7c7c"/>
<rect x="1292.44" y="88.54" width="14.85" height="94.77" fill="#c05005"/>
<rect x="1292.44" y="183.32" width="14.85" height="10.73" fill="#c0c0c0"/>
<rect x="1292.44" y="194.05" width="14.85" height="507.29" fill="#40c7bf"/>
<rect x="1292.44" y="701.34" width="14.85" height="1.19" fill="#287a48"/>
<rect x="1292.44" y="702.53" width="14.85" height="4.57" fill="#7b753c"/>
<rect x="1292.44" y="707.10" width="14.85" height="1.59" fill="#55c80f"/>
<rect x="1292.44" y="708.69" width="14.85" height="1.59" fill="#f962f8"/>
<rect x="1292.44" y="710.28" width="14.85" height="29.72" fill="#929292"/>
<rect x="1326.07" y="85.56" width="14.85" height="26.23" fill="#c05005"/>
<rect x="1326.07" y="111.79" width="14.85" height="1.99" fill="#c0c0c0"/>
<rect x="1326.07" y="113.78" width="14.85" height="533.12" fill="#40c7bf"/>
<rect x="1326.07" y="646.90" width="14.85" height="16.29" fill="#7b753c"/>
<rect x="1326.07" y="663.19" width="14.85" height="2.58" fill="#55c80f"/>
<rect x="1326.07" y="665.77" width="14.85" height="74.23" fill="#929292"/>
<rect x="1342.88" y="85.56" width="14.85" height="1.19" fill="#7c7c7c"/>
<rect x="1342.88" y="86.76" width="14.85" height="58.41" fill="#c05005"/>
<rect x="1342.88" y="145.17" width="14.85" height="3.97" fill="#c0c0c0"/>
<rect x="1342.88" y="149.14" width="14.85" height="494.97" fill="#40c7bf"/>
<rect x="1342.88" y="644.11" width="14.85" height="21.86" fill="#7b753c"/>
<rect x="1342.88" y="665.97" width="14.85" height="3.38" fill="#55c80f"/>
<rect x="1342.88" y="669.35" width="14.85" height="70.65" fill="#929292"/>
<rect x="1359.70" y="85.56" width="14.85" height="76.10" fill="#7c7c7c"/>
<rect x="1359.70" y="161.66" width="14.85" height="0.60" fill="#7b753c"/>
<rect x="1359.70" y="162.26" width="14.85" height="185.00" fill="#c05005"/>
<rect x="1359.70" y="347.26" width="14.85" height="75.90" fill="#ea6a70"/>
<rect x="1359.70" y="423.15" width="14.85" height="233.88" fill="#c0c0c0"/>
<rect x="1359.70" y="657.03" width="14.85" height="21.26" fill="#40c7bf"/>
<rect x="1359.70" y="678.29" width="14.85" height="2.98" fill="#287a48"/>
<rect x="1359.70" y="681.27" width="14.85" height="8.74" fill="#7b753c"/>
<rect x="1359.70" y="690.01" width="14.85" height="2.78" fill="#55c80f"/>
<rect x="1359.70" y="692.79" width="14.85" height="1.39" fill="#ff760d"/>
<rect x="1359.70" y="694.18" width="14.85" height="16.49" fill="#7aa7c2"/>
<rect x="1359.70" y="710.68" width="14.85" height="29.32" fill="#929292"/>
<rect x="1376.51" y="85.56" width="14.85" height="204.05" fill="#7c7c7c"/>
<rect x="1376.51" y="289.62" width="14.85" height="5.98" fill="#c05005"/>
<rect x="1376.51" y="295.60" width="14.85" height="69.34" fill="#ea6a70"/>
<rect x="1376.51" y="364.94" width="14.85" height="331.23" fill="#c0c0c0"/>
<rect x="1376.51" y="696.17" width="14.85" height="34.56" fill="#40c7bf"/>
<rect x="1376.51" y="730.73" width="14.85" height="5.96" fill="#7b753c"/>
<rect x="1376.51" y="736.69" width="14.85" height="3.31" fill="#12387a"/>
<rect x="1410.14" y="85.56" width="14.85" height="49.47" fill="#c05005"/>
<rect x="1410.14" y="135.04" width="14.85" height="10.93" fill="#c0c0c0"/>
<rect x="1410.14" y="145.96" width="14.85" height="34.37" fill="#bf7fc4"/>
<rect x="1410.14" y="180.34" width="14.85" height="110.67" fill="#40c7bf"/>
<rect x="1410.14" y="291.01" width="14.85" height="13.33" fill="#7b753c"/>
<rect x="1410.14" y="304.34" width="14.85" height="9.14" fill="#8bb3c0"/>
<rect x="1410.14" y="313.48" width="14.85" height="2.38" fill="#55c80f"/>
<rect x="1410.14" y="315.86" width="14.85" height="57.02" fill="#12387a"/>
<rect x="1410.14" y="372.89" width="14.85" height="308.58" fill="#f962f8"/>
<rect x="1410.14" y="681.47" width="14.85" height="58.53" fill="#929292"/>
<rect x="1426.96" y="85.56" width="14.85" height="9.34" fill="#7c7c7c"/>
<rect x="1426.96" y="94.90" width="14.85" height="3.58" fill="#c05005"/>
<rect x="1426.96" y="98.48" width="14.85" height="6.76" fill="#c0c0c0"/>
<rect x="1426.96" y="105.23" width="14.85" height="476.89" fill="#bf7fc4"/>
<rect x="1426.96" y="582.12" width="14.85" height="57.02" fill="#40c7bf"/>
<rect x="1426.96" y="639.15" width="14.85" height="1.39" fill="#7b753c"/>
<rect x="1426.96" y="640.54" width="14.85" height="1.59" fill="#8bb3c0"/>
<rect x="1426.96" y="642.13" width="14.85" height="8.94" fill="#12387a"/>
<rect x="1426.96" y="651.07" width="14.85" height="65.17" fill="#f962f8"/>
<rect x="1426.96" y="716.24" width="14.85" height="23.76" fill="#929292"/>
<rect x="1460.59" y="85.56" width="14.85" height="1.19" fill="#7c7c7c"/>
<rect x="1460.59" y="86.76" width="14.85" height="41.13" fill="#c05005"/>
<rect x="1460.59" y="127.88" width="14.85" height="7.95" fill="#c0c0c0"/>
<rect x="1460.59" y="135.83" width="14.85" height="1.79" fill="#bf7fc4"/>
<rect x="1460.59" y="137.62" width="14.85" height="551.20" fill="#40c7bf"/>
<rect x="1460.59" y="688.82" width="14.85" height="6.95" fill="#7b753c"/>
<rect x="1460.59" y="695.77" width="14.85" height="1.19" fill="#12387a"/>
<rect x="1460.59" y="696.97" width="14.85" height="17.29" fill="#f962f8"/>
<rect x="1460.59" y="714.25" width="14.85" height="6.36" fill="#7aa7c2"/>
<rect x="1460.59" y="720.61" width="14.85" height="19.39" fill="#929292"/>
<rect x="1477.40" y="85.56" width="14.85" height="4.97" fill="#7c7c7c"/>
<rect x="1477.40" y="90.53" width="14.85" height="4.77" fill="#c05005"/>
<rect x="1477.40" y="95.30" width="14.85" height="3.78" fill="#c0c0c0"/>
<rect x="1477.40" y="99.07" width="14.85" height="92.19" fill="#bf7fc4"/>
<rect x="1477.40" y="191.27" width="14.85" height="61.99" fill="#40c7bf"/>
<rect x="1477.40" y="253.26" width="14.85" height="10.73" fill="#8bb3c0"/>
<rect x="1477.40" y="263.99" width="14.85" height="17.09" fill="#12387a"/>
<rect x="1477.40" y="281.07" width="14.85" height="440.12" fill="#f962f8"/>
<rect x="1477.40" y="721.19" width="14.85" height="1.59" fill="#7aa7c2"/>
<rect x="1477.40" y="722.78" width="14.85" height="17.22" fill="#929292"/>
<rect x="1494.22" y="85.56" width="14.85" height="76.89" fill="#7c7c7c"/>
<rect x="1494.22" y="162.46" width="14.85" height="18.48" fill="#c05005"/>
<rect x="1494.22" y="180.93" width="14.85" height="8.15" fill="#ea6a70"/>
<rect x="1494.22" y="189.08" width="14.85" height="146.06" fill="#c0c0c0"/>
<rect x="1494.22" y="335.14" width="14.85" height="6.16" fill="#bf7fc4"/>
<rect x="1494.22" y="341.29" width="14.85" height="216.39" fill="#40c7bf"/>
<rect x="1494.22" y="557.69" width="14.85" height="6.36" fill="#7b753c"/>
<rect x="1494.22" y="564.04" width="14.85" height="9.93" fill="#8bb3c0"/>
<rect x="1494.22" y="573.98" width="14.85" height="2.19" fill="#55c80f"/>
<rect x="1494.22" y="576.16" width="14.85" height="31.79" fill="#12387a"/>
<rect x="1494.22" y="607.95" width="14.85" height="81.46" fill="#f962f8"/>
<rect x="1494.22" y="689.42" width="14.85" height="8.74" fill="#7aa7c2"/>
<rect x="1494.22" y="698.16" width="14.85" height="41.84" fill="#929292"/>
<rect x="1527.85" y="85.56" width="14.85" height="9.34" fill="#c05005"/>
<rect x="1527.85" y="94.90" width="14.85" height="2.98" fill="#c0c0c0"/>
<rect x="1527.85" y="97.88" width="14.85" height="615.97" fill="#40c7bf"/>
<rect x="1527.85" y="713.85" width="14.85" height="1.39" fill="#7b753c"/>
<rect x="1527.85" y="715.25" width="14.85" height="24.75" fill="#929292"/>
<rect x="1544.66" y="85.56" width="14.85" height="4.37" fill="#c05005"/>
<rect x="1544.66" y="89.93" width="14.85" height="3.18" fill="#c0c0c0"/>
<rect x="1544.66" y="93.11" width="14.85" height="621.54" fill="#40c7bf"/>
<rect x="1544.66" y="714.65" width="14.85" height="2.38" fill="#7b753c"/>
<rect x="1544.66" y="717.03" width="14.85" height="1.59" fill="#8bb3c0"/>
<rect x="1544.66" y="718.62" width="14.85" height="21.38" fill="#929292"/>
<rect x="1561.48" y="85.56" width="14.85" height="7.55" fill="#c05005"/>
<rect x="1561.48" y="93.11" width="14.85" height="4.77" fill="#c0c0c0"/>
<rect x="1561.48" y="97.88" width="14.85" height="597.69" fill="#40c7bf"/>
<rect x="1561.48" y="695.58" width="14.85" height="10.73" fill="#7b753c"/>
<rect x="1561.48" y="706.30" width="14.85" height="2.78" fill="#55c80f"/>
<rect x="1561.48" y="709.09" width="14.85" height="1.59" fill="#7aa7c2"/>
<rect x="1561.48" y="710.68" width="14.85" height="29.32" fill="#929292"/>
<rect x="1595.11" y="85.56" width="14.85" height="1.59" fill="#c05005"/>
<rect x="1595.11" y="87.15" width="14.85" height="591.73" fill="#40c7bf"/>
<rect x="1595.11" y="678.89" width="14.85" height="5.96" fill="#7b753c"/>
<rect x="1595.11" y="684.85" width="14.85" height="1.19" fill="#55c80f"/>
<rect x="1595.11" y="686.04" width="14.85" height="53.96" fill="#929292"/>
<rect x="1611.92" y="85.56" width="14.85" height="1.79" fill="#c05005"/>
<rect x="1611.92" y="87.35" width="14.85" height="591.93" fill="#40c7bf"/>
<rect x="1611.92" y="679.28" width="14.85" height="4.57" fill="#7b753c"/>
<rect x="1611.92" y="683.85" width="14.85" height="1.99" fill="#55c80f"/>
<rect x="1611.92" y="685.84" width="14.85" height="54.16" fill="#929292"/>
<rect x="1628.74" y="85.56" width="14.85" height="115.64" fill="#7c7c7c"/>
<rect x="1628.74" y="201.20" width="14.85" height="18.88" fill="#c05005"/>
<rect x="1628.74" y="220.08" width="14.85" height="84.06" fill="#ea6a70"/>
<rect x="1628.74" y="304.14" width="14.85" height="355.27" fill="#c0c0c0"/>
<rect x="1628.74" y="659.41" width="14.85" height="59.21" fill="#40c7bf"/>
<rect x="1628.74" y="718.62" width="14.85" height="4.37" fill="#f962f8"/>
<rect x="1628.74" y="722.99" width="14.85" height="3.37" fill="#7aa7c2"/>
<rect x="1628.74" y="726.36" width="14.85" height="13.64" fill="#929292"/>
<rect x="1645.55" y="85.56" width="14.85" height="223.74" fill="#7c7c7c"/>
<rect x="1645.55" y="309.31" width="14.85" height="57.22" fill="#ea6a70"/>
<rect x="1645.55" y="366.53" width="14.85" height="338.19" fill="#c0c0c0"/>
<rect x="1645.55" y="704.71" width="14.85" height="29.39" fill="#40c7bf"/>
<rect x="1645.55" y="734.11" width="14.85" height="1.19" fill="#7b753c"/>
<rect x="1645.55" y="735.30" width="14.85" height="1.39" fill="#7aa7c2"/>
<rect x="1645.55" y="736.69" width="14.85" height="3.31" fill="#929292"/>
<rect x="1679.18" y="85.56" width="14.85" height="637.22" fill="#40c7bf"/>
<rect x="1679.18" y="722.78" width="14.85" height="1.39" fill="#7b753c"/>
<rect x="1679.18" y="724.17" width="14.85" height="1.59" fill="#f962f8"/>
<rect x="1679.18" y="725.76" width="14.85" height="14.24" fill="#929292"/>
<rect x="1696.00" y="85.56" width="14.85" height="0.60" fill="#bf7fc4"/>
<rect x="1696.00" y="86.16" width="14.85" height="623.52" fill="#40c7bf"/>
<rect x="1696.00" y="709.68" width="14.85" height="6.56" fill="#7b753c"/>
<rect x="1696.00" y="716.24" width="14.85" height="0.99" fill="#55c80f"/>
<rect x="1696.00" y="717.23" width="14.85" height="6.36" fill="#f962f8"/>
<rect x="1696.00" y="723.59" width="14.85" height="16.41" fill="#929292"/>
<rect x="1712.81" y="85.56" width="14.85" height="23.84" fill="#7c7c7c"/>
<rect x="1712.81" y="109.41" width="14.85" height="6.95" fill="#c05005"/>
<rect x="1712.81" y="116.36" width="14.85" height="6.56" fill="#ea6a70"/>
<rect x="1712.81" y="122.92" width="14.85" height="28.81" fill="#c0c0c0"/>
<rect x="1712.81" y="151.73" width="14.85" height="530.93" fill="#40c7bf"/>
<rect x="1712.81" y="682.66" width="14.85" height="11.13" fill="#7b753c"/>
<rect x="1712.81" y="693.79" width="14.85" height="3.38" fill="#f962f8"/>
<rect x="1712.81" y="697.16" width="14.85" height="42.84" fill="#929292"/>
<rect x="1729.63" y="85.56" width="14.85" height="8.34" fill="#9eff1e"/>
<rect x="1729.63" y="93.91" width="14.85" height="27.22" fill="#c05005"/>
<rect x="1729.63" y="121.13" width="14.85" height="37.75" fill="#c0c0c0"/>
<rect x="1729.63" y="158.88" width="14.85" height="6.95" fill="#bf7fc4"/>
<rect x="1729.63" y="165.83" width="14.85" height="474.31" fill="#40c7bf"/>
<rect x="1729.63" y="640.14" width="14.85" height="4.97" fill="#7b753c"/>
<rect x="1729.63" y="645.11" width="14.85" height="1.59" fill="#c0c0c0"/>
<rect x="1729.63" y="646.70" width="14.85" height="23.25" fill="#12387a"/>
<rect x="1729.63" y="669.94" width="14.85" height="70.06" fill="#929292"/>
<rect x="1763.26" y="85.56" width="14.85" height="62.98" fill="#7c7c7c"/>
<rect x="1763.26" y="148.55" width="14.85" height="52.65" fill="#c05005"/>
<rect x="1763.26" y="201.20" width="14.85" height="9.14" fill="#ea6a70"/>
<rect x="1763.26" y="210.34" width="14.85" height="90.62" fill="#c0c0c0"/>
<rect x="1763.26" y="300.96" width="14.85" height="251.56" fill="#40c7bf"/>
<rect x="1763.26" y="552.52" width="14.85" height="85.63" fill="#7b753c"/>
<rect x="1763.26" y="638.15" width="14.85" height="0.99" fill="#55c80f"/>
<rect x="1763.26" y="639.15" width="14.85" height="100.85" fill="#929292"/>
<rect x="1780.07" y="85.56" width="14.85" height="53.25" fill="#c05005"/>
<rect x="1780.07" y="138.81" width="14.85" height="3.97" fill="#c0c0c0"/>
<rect x="1780.07" y="142.79" width="14.85" height="561.33" fill="#40c7bf"/>
<rect x="1780.07" y="704.12" width="14.85" height="3.97" fill="#7b753c"/>
<rect x="1780.07" y="708.09" width="14.85" height="0.99" fill="#55c80f"/>
<rect x="1780.07" y="709.09" width="14.85" height="3.97" fill="#7aa7c2"/>
<rect x="1780.07" y="713.06" width="14.85" height="26.94" fill="#929292"/>
<rect x="1796.89" y="85.56" width="14.85" height="5.76" fill="#7c7c7c"/>
<rect x="1796.89" y="91.33" width="14.85" height="79.48" fill="#c05005"/>
<rect x="1796.89" y="170.80" width="14.85" height="5.36" fill="#c0c0c0"/>
<rect x="1796.89" y="176.17" width="14.85" height="0.99" fill="#bf7fc4"/>
<rect x="1796.89" y="177.16" width="14.85" height="496.16" fill="#40c7bf"/>
<rect x="1796.89" y="673.32" width="14.85" height="5.76" fill="#7b753c"/>
<rect x="1796.89" y="679.08" width="14.85" height="2.19" fill="#55c80f"/>
<rect x="1796.89" y="681.27" width="14.85" height="9.14" fill="#f962f8"/>
<rect x="1796.89" y="690.41" width="14.85" height="8.34" fill="#7aa7c2"/>
<rect x="1796.89" y="698.75" width="14.85" height="41.25" fill="#929292"/>
<rect x="1813.70" y="85.56" width="14.85" height="18.88" fill="#7c7c7c"/>
<rect x="1813.70" y="104.44" width="14.85" height="17.29" fill="#c05005"/>
<rect x="1813.70" y="121.72" width="14.85" height="4.17" fill="#ea6a70"/>
<rect x="1813.70" y="125.90" width="14.85" height="34.97" fill="#c0c0c0"/>
<rect x="1813.70" y="160.87" width="14.85" height="0.79" fill="#bf7fc4"/>
<rect x="1813.70" y="161.66" width="14.85" height="475.10" fill="#40c7bf"/>
<rect x="1813.70" y="636.76" width="14.85" height="13.51" fill="#7b753c"/>
<rect x="1813.70" y="650.27" width="14.85" height="2.38" fill="#55c80f"/>
<rect x="1813.70" y="652.66" width="14.85" height="1.79" fill="#f962f8"/>
<rect x="1813.70" y="654.45" width="14.85" height="26.82" fill="#7aa7c2"/>
<rect x="1813.70" y="681.27" width="14.85" height="58.73" fill="#929292"/>
<rect x="1830.52" y="85.56" width="14.85" height="186.77" fill="#7c7c7c"/>
<rect x="1830.52" y="272.33" width="14.85" height="1.39" fill="#c05005"/>
<rect x="1830.52" y="273.72" width="14.85" height="60.22" fill="#ea6a70"/>
<rect x="1830.52" y="333.94" width="14.85" height="373.16" fill="#c0c0c0"/>
<rect x="1830.52" y="707.10" width="14.85" height="22.64" fill="#40c7bf"/>
<rect x="1830.52" y="729.74" width="14.85" height="2.38" fill="#12387a"/>
<rect x="1830.52" y="732.12" width="14.85" height="7.88" fill="#929292"/>
<rect x="1864.15" y="85.56" width="14.85" height="628.28" fill="#40c7bf"/>
<rect x="1864.15" y="713.84" width="14.85" height="1.99" fill="#7b753c"/>
<rect x="1864.15" y="715.83" width="14.85" height="0.99" fill="#55c80f"/>
<rect x="1864.15" y="716.82" width="14.85" height="23.18" fill="#929292"/>
<rect x="1880.96" y="85.56" width="14.85" height="623.31" fill="#40c7bf"/>
<rect x="1880.96" y="708.88" width="14.85" height="2.98" fill="#7b753c"/>
<rect x="1880.96" y="711.86" width="14.85" height="1.59" fill="#bf7fc4"/>
<rect x="1880.96" y="713.45" width="14.85" height="26.55" fill="#929292"/>
<rect x="1897.78" y="85.56" width="14.85" height="638.21" fill="#40c7bf"/>
<rect x="1897.78" y="723.78" width="14.85" height="1.59" fill="#7b753c"/>
<rect x="1897.78" y="725.37" width="14.85" height="14.63" fill="#929292"/>
<rect x="1914.59" y="85.56" width="14.85" height="7.55" fill="#7c7c7c"/>
<rect x="1914.59" y="93.11" width="14.85" height="1.79" fill="#ea6a70"/>
<rect x="1914.59" y="94.90" width="14.85" height="30.80" fill="#c0c0c0"/>
<rect x="1914.59" y="125.70" width="14.85" height="585.56" fill="#40c7bf"/>
<rect x="1914.59" y="711.26" width="14.85" height="6.95" fill="#7b753c"/>
<rect x="1914.59" y="718.21" width="14.85" height="0.60" fill="#12387a"/>
<rect x="1914.59" y="718.81" width="14.85" height="1.79" fill="#f962f8"/>
<rect x="1914.59" y="720.60" width="14.85" height="19.40" fill="#929292"/>
<rect x="1948.22" y="85.56" width="14.85" height="639.80" fill="#40c7bf"/>
<rect x="1948.22" y="725.37" width="14.85" height="0.99" fill="#7b753c"/>
<rect x="1948.22" y="726.36" width="14.85" height="13.64" fill="#929292"/>
<rect x="1965.04" y="85.56" width="14.85" height="633.45" fill="#40c7bf"/>
<rect x="1965.04" y="719.01" width="14.85" height="3.18" fill="#7b753c"/>
<rect x="1965.04" y="722.19" width="14.85" height="1.79" fill="#f962f8"/>
<rect x="1965.04" y="723.98" width="14.85" height="16.02" fill="#929292"/>
<rect x="1981.85" y="85.56" width="14.85" height="0.99" fill="#7c7c7c"/>
<rect x="1981.85" y="86.56" width="14.85" height="6.36" fill="#c05005"/>
<rect x="1981.85" y="92.91" width="14.85" height="6.76" fill="#c0c0c0"/>
<rect x="1981.85" y="99.67" width="14.85" height="618.15" fill="#40c7bf"/>
<rect x="1981.85" y="717.82" width="14.85" height="2.38" fill="#7b753c"/>
<rect x="1981.85" y="720.20" width="14.85" height="2.58" fill="#f962f8"/>
<rect x="1981.85" y="722.78" width="14.85" height="17.22" fill="#929292"/>
<rect x="1998.67" y="85.56" width="14.85" height="225.73" fill="#7c7c7c"/>
<rect x="1998.67" y="311.29" width="14.85" height="35.96" fill="#ea6a70"/>
<rect x="1998.67" y="347.26" width="14.85" height="293.48" fill="#c0c0c0"/>
<rect x="1998.67" y="640.74" width="14.85" height="93.97" fill="#40c7bf"/>
<rect x="1998.67" y="734.70" width="14.85" height="1.39" fill="#7b753c"/>
<rect x="1998.67" y="736.10" width="14.85" height="1.19" fill="#bf7fc4"/>
<rect x="1998.67" y="737.29" width="14.85" height="2.71" fill="#929292"/>
<rect x="2032.30" y="85.56" width="14.85" height="639.60" fill="#40c7bf"/>
<rect x="2032.30" y="725.17" width="14.85" height="0.60" fill="#f962f8"/>
<rect x="2032.30" y="725.76" width="14.85" height="14.24" fill="#929292"/>
<rect x="2049.11" y="85.56" width="14.85" height="640.00" fill="#40c7bf"/>
<rect x="2049.11" y="725.57" width="14.85" height="0.99" fill="#bf7fc4"/>
<rect x="2049.11" y="726.56" width="14.85" height="13.44" fill="#929292"/>
<rect x="2065.93" y="85.56" width="14.85" height="10.33" fill="#c05005"/>
<rect x="2065.93" y="95.90" width="14.85" height="1.79" fill="#c0c0c0"/>
<rect x="2065.93" y="97.68" width="14.85" height="608.21" fill="#40c7bf"/>
<rect x="2065.93" y="705.90" width="14.85" height="7.55" fill="#7b753c"/>
<rect x="2065.93" y="713.45" width="14.85" height="2.38" fill="#12387a"/>
<rect x="2065.93" y="715.83" width="14.85" height="6.95" fill="#f962f8"/>
<rect x="2065.93" y="722.78" width="14.85" height="17.22" fill="#929292"/>
<rect x="2082.74" y="85.56" width="14.85" height="101.33" fill="#7c7c7c"/>
<rect x="2082.74" y="186.89" width="14.85" height="1.19" fill="#c05005"/>
<rect x="2082.74" y="188.09" width="14.85" height="17.88" fill="#ea6a70"/>
<rect x="2082.74" y="205.97" width="14.85" height="246.00" fill="#c0c0c0"/>
<rect x="2082.74" y="451.96" width="14.85" height="0.99" fill="#bf7fc4"/>
<rect x="2082.74" y="452.96" width="14.85" height="261.48" fill="#40c7bf"/>
<rect x="2082.74" y="714.44" width="14.85" height="7.95" fill="#7b753c"/>
<rect x="2082.74" y="722.39" width="14.85" height="0.60" fill="#55c80f"/>
<rect x="2082.74" y="722.98" width="14.85" height="1.39" fill="#f962f8"/>
<rect x="2082.74" y="724.37" width="14.85" height="15.63" fill="#929292"/>
</g>
<g fill="#222222">
<rect x="122.4" y="78.7" width="4.3" height="663.3" />
<rect x="111" y="737.7" width="1995" height="4.3" />
<rect x="111" y="83.15" width="13" height="4.5" />
<rect x="111" y="214.01" width="13" height="4.5" />
<rect x="111" y="344.87" width="13" height="4.5" />
<rect x="111" y="475.73" width="13" height="4.5" />
<rect x="111" y="606.59" width="13" height="4.5" />
</g>
<text transform="translate(108.8 96.30) scale(0.911 1)" text-anchor="end" font-size="33.7" fill="#1a1a1a" style="fill:#1a1a1a">100</text>
<text transform="translate(108.8 227.16) scale(0.911 1)" text-anchor="end" font-size="33.7" fill="#1a1a1a" style="fill:#1a1a1a">80</text>
<text transform="translate(108.8 358.02) scale(0.911 1)" text-anchor="end" font-size="33.7" fill="#1a1a1a" style="fill:#1a1a1a">60</text>
<text transform="translate(108.8 488.88) scale(0.911 1)" text-anchor="end" font-size="33.7" fill="#1a1a1a" style="fill:#1a1a1a">40</text>
<text transform="translate(108.8 619.74) scale(0.911 1)" text-anchor="end" font-size="33.7" fill="#1a1a1a" style="fill:#1a1a1a">20</text>
<text transform="translate(108.8 750.60) scale(0.911 1)" text-anchor="end" font-size="33.7" fill="#1a1a1a" style="fill:#1a1a1a">0</text>
<text transform="translate(35.7 407.85) rotate(-90) scale(0.933 1)" text-anchor="middle" font-size="38">% reads</text>
<text class="dv" x="128.5" y="28.1" font-size="22.2">Depth (m)</text>
<text transform="translate(142.09 79.60) rotate(-90) scale(0.9 1)" font-size="16.8">3</text>
<text transform="translate(162.09 79.60) rotate(-90) scale(0.9 1)" font-size="16.8">101</text>
<text transform="translate(182.09 79.60) rotate(-90) scale(0.9 1)" font-size="16.8">145</text>
<text transform="translate(209.55 79.60) rotate(-90) scale(0.9 1)" font-size="16.8">10</text>
<text transform="translate(229.55 79.60) rotate(-90) scale(0.9 1)" font-size="16.8">30</text>
<text transform="translate(249.55 79.60) rotate(-90) scale(0.9 1)" font-size="16.8">100</text>
<text transform="translate(277.31 80.30) rotate(-90) scale(0.9 1)" font-size="16.8">3</text>
<text transform="translate(297.31 80.30) rotate(-90) scale(0.9 1)" font-size="16.8">104</text>
<text transform="translate(317.31 80.30) rotate(-90) scale(0.9 1)" font-size="16.8">150</text>
<text transform="translate(345.41 80.30) rotate(-90) scale(0.9 1)" font-size="16.8">3</text>
<text transform="translate(365.41 80.30) rotate(-90) scale(0.9 1)" font-size="16.8">30</text>
<text transform="translate(392.37 79.60) rotate(-90) scale(0.9 1)" font-size="16.8">5</text>
<text transform="translate(412.37 79.60) rotate(-90) scale(0.9 1)" font-size="16.8">50</text>
<text transform="translate(432.37 79.60) rotate(-90) scale(0.9 1)" font-size="16.8">100</text>
<text transform="translate(452.37 79.60) rotate(-90) scale(0.9 1)" font-size="16.8">160</text>
<text transform="translate(478.24 80.30) rotate(-90) scale(0.9 1)" font-size="16.8">3</text>
<text transform="translate(498.24 80.30) rotate(-90) scale(0.9 1)" font-size="16.8">92</text>
<text transform="translate(518.24 80.30) rotate(-90) scale(0.9 1)" font-size="16.8">150</text>
<text transform="translate(546.59 79.60) rotate(-90) scale(0.9 1)" font-size="16.8">3</text>
<text transform="translate(566.59 79.60) rotate(-90) scale(0.9 1)" font-size="16.8">36</text>
<text transform="translate(595.54 80.90) rotate(-90) scale(0.9 1)" font-size="16.8">3</text>
<text transform="translate(615.54 80.90) rotate(-90) scale(0.9 1)" font-size="16.8">30</text>
<text transform="translate(635.54 80.90) rotate(-90) scale(0.9 1)" font-size="16.8">70</text>
<text transform="translate(660.56 81.00) rotate(-90) scale(0.9 1)" font-size="16.8">3</text>
<text transform="translate(680.56 81.00) rotate(-90) scale(0.9 1)" font-size="16.8">30</text>
<text transform="translate(700.56 81.00) rotate(-90) scale(0.9 1)" font-size="16.8">74</text>
<text transform="translate(720.56 81.00) rotate(-90) scale(0.9 1)" font-size="16.8">120</text>
<text transform="translate(748.62 81.00) rotate(-90) scale(0.9 1)" font-size="16.8">5</text>
<text transform="translate(768.62 81.00) rotate(-90) scale(0.9 1)" font-size="16.8">20</text>
<text transform="translate(796.93 81.00) rotate(-90) scale(0.9 1)" font-size="16.8">3</text>
<text transform="translate(816.93 81.00) rotate(-90) scale(0.9 1)" font-size="16.8">30</text>
<text transform="translate(836.93 81.00) rotate(-90) scale(0.9 1)" font-size="16.8">69</text>
<text transform="translate(861.64 80.90) rotate(-90) scale(0.9 1)" font-size="16.8">3</text>
<text transform="translate(881.64 80.90) rotate(-90) scale(0.9 1)" font-size="16.8">60</text>
<text transform="translate(901.64 80.90) rotate(-90) scale(0.9 1)" font-size="16.8">115</text>
<text transform="translate(921.64 80.90) rotate(-90) scale(0.9 1)" font-size="16.8">150</text>
<text transform="translate(946.02 80.30) rotate(-90) scale(0.9 1)" font-size="16.8">5</text>
<text transform="translate(966.02 80.30) rotate(-90) scale(0.9 1)" font-size="16.8">20</text>
<text transform="translate(986.02 80.30) rotate(-90) scale(0.9 1)" font-size="16.8">77</text>
<text transform="translate(1006.02 80.30) rotate(-90) scale(0.9 1)" font-size="16.8">112</text>
<text transform="translate(1031.64 80.70) rotate(-90) scale(0.9 1)" font-size="16.8">5</text>
<text transform="translate(1051.64 80.70) rotate(-90) scale(0.9 1)" font-size="16.8">45</text>
<text transform="translate(1071.64 80.70) rotate(-90) scale(0.9 1)" font-size="16.8">83</text>
<text transform="translate(1091.64 80.70) rotate(-90) scale(0.9 1)" font-size="16.8">100</text>
<text transform="translate(1118.30 81.00) rotate(-90) scale(0.9 1)" font-size="16.8">30</text>
<text transform="translate(1138.30 81.00) rotate(-90) scale(0.9 1)" font-size="16.8">160</text>
<text transform="translate(1164.96 81.10) rotate(-90) scale(0.9 1)" font-size="16.8">5</text>
<text transform="translate(1184.96 81.10) rotate(-90) scale(0.9 1)" font-size="16.8">15</text>
<text transform="translate(1204.96 81.10) rotate(-90) scale(0.9 1)" font-size="16.8">60</text>
<text transform="translate(1224.96 81.10) rotate(-90) scale(0.9 1)" font-size="16.8">90</text>
<text transform="translate(1249.69 81.00) rotate(-90) scale(0.9 1)" font-size="16.8">5</text>
<text transform="translate(1269.69 81.00) rotate(-90) scale(0.9 1)" font-size="16.8">26</text>
<text transform="translate(1289.69 81.00) rotate(-90) scale(0.9 1)" font-size="16.8">58</text>
<text transform="translate(1309.69 81.00) rotate(-90) scale(0.9 1)" font-size="16.8">80</text>
<text transform="translate(1332.81 81.00) rotate(-90) scale(0.9 1)" font-size="16.8">3</text>
<text transform="translate(1352.81 81.00) rotate(-90) scale(0.9 1)" font-size="16.8">30</text>
<text transform="translate(1372.81 81.00) rotate(-90) scale(0.9 1)" font-size="16.8">75</text>
<text transform="translate(1392.81 81.00) rotate(-90) scale(0.9 1)" font-size="16.8">90</text>
<text transform="translate(1420.32 81.00) rotate(-90) scale(0.9 1)" font-size="16.8">5</text>
<text transform="translate(1440.32 81.00) rotate(-90) scale(0.9 1)" font-size="16.8">30</text>
<text transform="translate(1469.92 81.00) rotate(-90) scale(0.9 1)" font-size="16.8">5</text>
<text transform="translate(1489.92 81.00) rotate(-90) scale(0.9 1)" font-size="16.8">25</text>
<text transform="translate(1509.92 81.00) rotate(-90) scale(0.9 1)" font-size="16.8">65</text>
<text transform="translate(1536.54 81.00) rotate(-90) scale(0.9 1)" font-size="16.8">5</text>
<text transform="translate(1556.54 81.00) rotate(-90) scale(0.9 1)" font-size="16.8">20</text>
<text transform="translate(1576.54 81.00) rotate(-90) scale(0.9 1)" font-size="16.8">60</text>
<text transform="translate(1603.75 80.80) rotate(-90) scale(0.9 1)" font-size="16.8">3</text>
<text transform="translate(1623.75 80.80) rotate(-90) scale(0.9 1)" font-size="16.8">40</text>
<text transform="translate(1643.75 80.80) rotate(-90) scale(0.9 1)" font-size="16.8">72</text>
<text transform="translate(1663.75 80.80) rotate(-90) scale(0.9 1)" font-size="16.8">120</text>
<text transform="translate(1686.38 80.90) rotate(-90) scale(0.9 1)" font-size="16.8">3</text>
<text transform="translate(1706.38 80.90) rotate(-90) scale(0.9 1)" font-size="16.8">22</text>
<text transform="translate(1726.38 80.90) rotate(-90) scale(0.9 1)" font-size="16.8">52</text>
<text transform="translate(1746.38 80.90) rotate(-90) scale(0.9 1)" font-size="16.8">100</text>
<text transform="translate(1776.10 81.2) rotate(-90) scale(0.9 1)" font-size="14.4">5</text>
<text transform="translate(1792.75 81.2) rotate(-90) scale(0.9 1)" font-size="14.4">5</text>
<text transform="translate(1809.40 81.2) rotate(-90) scale(0.9 1)" font-size="14.4">15</text>
<text transform="translate(1826.05 81.2) rotate(-90) scale(0.9 1)" font-size="14.4">53</text>
<text transform="translate(1842.70 81.2) rotate(-90) scale(0.9 1)" font-size="14.4">90</text>
<text transform="translate(1870.24 81.20) rotate(-90) scale(0.9 1)" font-size="16.8">3</text>
<text transform="translate(1890.24 81.20) rotate(-90) scale(0.9 1)" font-size="16.8">16</text>
<text transform="translate(1910.24 81.20) rotate(-90) scale(0.9 1)" font-size="16.8">38</text>
<text transform="translate(1930.24 81.20) rotate(-90) scale(0.9 1)" font-size="16.8">60</text>
<text transform="translate(1955.12 81.20) rotate(-90) scale(0.9 1)" font-size="16.8">5</text>
<text transform="translate(1975.12 81.20) rotate(-90) scale(0.9 1)" font-size="16.8">20</text>
<text transform="translate(1995.12 81.20) rotate(-90) scale(0.9 1)" font-size="16.8">50</text>
<text transform="translate(2015.12 81.20) rotate(-90) scale(0.9 1)" font-size="16.8">100</text>
<text transform="translate(2039.79 81.20) rotate(-90) scale(0.9 1)" font-size="16.8">3</text>
<text transform="translate(2059.79 81.20) rotate(-90) scale(0.9 1)" font-size="16.8">21</text>
<text transform="translate(2079.79 81.20) rotate(-90) scale(0.9 1)" font-size="16.8">40</text>
<text transform="translate(2099.79 81.20) rotate(-90) scale(0.9 1)" font-size="16.8">65</text>
<text transform="translate(167.90 749.4) rotate(-90) scale(0.92 1)" text-anchor="end" font-size="32.2">27.6</text>
<text transform="translate(235.10 749.4) rotate(-90) scale(0.92 1)" text-anchor="end" font-size="32.2">27.3</text>
<text transform="translate(299.10 749.4) rotate(-90) scale(0.92 1)" text-anchor="end" font-size="32.2">26.1</text>
<text transform="translate(358.30 749.4) rotate(-90) scale(0.92 1)" text-anchor="end" font-size="32.2">25.94</text>
<text transform="translate(425.80 749.4) rotate(-90) scale(0.92 1)" text-anchor="end" font-size="32.2">25.32</text>
<text transform="translate(502.30 749.4) rotate(-90) scale(0.92 1)" text-anchor="end" font-size="32.2">24.5</text>
<text transform="translate(562.00 749.4) rotate(-90) scale(0.92 1)" text-anchor="end" font-size="32.2">24.09</text>
<text transform="translate(618.00 749.4) rotate(-90) scale(0.92 1)" text-anchor="end" font-size="32.2">23.8</text>
<text transform="translate(693.70 749.4) rotate(-90) scale(0.92 1)" text-anchor="end" font-size="32.2">22.81</text>
<text transform="translate(762.10 749.4) rotate(-90) scale(0.92 1)" text-anchor="end" font-size="32.2">22.32</text>
<text transform="translate(820.50 749.4) rotate(-90) scale(0.92 1)" text-anchor="end" font-size="32.2">22.3</text>
<text transform="translate(896.40 749.4) rotate(-90) scale(0.92 1)" text-anchor="end" font-size="32.2">22.28</text>
<text transform="translate(982.30 749.4) rotate(-90) scale(0.92 1)" text-anchor="end" font-size="32.2">22.23</text>
<text transform="translate(1064.30 749.4) rotate(-90) scale(0.92 1)" text-anchor="end" font-size="32.2">22.23</text>
<text transform="translate(1131.90 749.4) rotate(-90) scale(0.92 1)" text-anchor="end" font-size="32.2">21.35</text>
<text transform="translate(1198.70 749.4) rotate(-90) scale(0.92 1)" text-anchor="end" font-size="32.2">21.21</text>
<text transform="translate(1278.90 749.4) rotate(-90) scale(0.92 1)" text-anchor="end" font-size="32.2">21.12</text>
<text transform="translate(1366.60 749.4) rotate(-90) scale(0.92 1)" text-anchor="end" font-size="32.2">19.94</text>
<text transform="translate(1434.10 749.4) rotate(-90) scale(0.92 1)" text-anchor="end" font-size="32.2">19.67</text>
<text transform="translate(1492.50 749.4) rotate(-90) scale(0.92 1)" text-anchor="end" font-size="32.2">18.67</text>
<text transform="translate(1560.70 749.4) rotate(-90) scale(0.92 1)" text-anchor="end" font-size="32.2">18.66</text>
<text transform="translate(1636.80 749.4) rotate(-90) scale(0.92 1)" text-anchor="end" font-size="32.2">18.3</text>
<text transform="translate(1721.70 749.4) rotate(-90) scale(0.92 1)" text-anchor="end" font-size="32.2">17.74</text>
<text transform="translate(1813.60 749.4) rotate(-90) scale(0.92 1)" text-anchor="end" font-size="32.2">17.35</text>
<text transform="translate(1907.60 749.4) rotate(-90) scale(0.92 1)" text-anchor="end" font-size="32.2">17.33</text>
<text transform="translate(1989.80 749.4) rotate(-90) scale(0.92 1)" text-anchor="end" font-size="32.2">17.25</text>
<text transform="translate(2077.50 749.4) rotate(-90) scale(0.92 1)" text-anchor="end" font-size="32.2">17.09</text>
<text transform="translate(950.2 894.6) scale(1.02 1)" font-size="34.7">Latitude (°N)</text>
<text class="it" x="230.5" y="958.7" font-size="27.5">Prochlorococcus:</text>
<text class="it" x="231.5" y="994.8" font-size="27.5">Synechococcus:</text>
<g fill="none" stroke="#000" stroke-width="2">
<path d="M447 955.5 H566"/>
<path d="M436.5 991.8 H556.3"/>
<path d="M566 983 H559.3 Q556.3 983 556.3 986 V1016.3 Q556.3 1019.3 559.3 1019.3 H566"/>
</g>
<rect x="574.8" y="938.0" width="46.4" height="20.6" fill="#9eff1e"/>
<text x="629.0" y="958.6" font-size="27.5">HLI</text>
<rect x="775.0" y="938.0" width="46.4" height="20.6" fill="#c05005"/>
<text x="828.5" y="958.6" font-size="27.5">HLII</text>
<rect x="975.8" y="937.6" width="46.4" height="20.6" fill="#ea6a70"/>
<text x="1028.6" y="958.6" font-size="27.5">LLI</text>
<rect x="1175.8" y="937.5" width="46.4" height="20.6" fill="#c0c0c0"/>
<text x="1229.2" y="958.6" font-size="27.5">Unclassified</text>
<rect x="576.7" y="973.6" width="46.4" height="20.6" fill="#bf7fc4"/>
<text x="630.0" y="994.6" font-size="27.5">CRD1</text>
<rect x="777.1" y="973.5" width="46.4" height="20.6" fill="#6a4ae8"/>
<text x="830.2" y="994.5" font-size="27.5">EnvA</text>
<rect x="977.9" y="973.3" width="46.4" height="20.6" fill="#40c7bf"/>
<text x="1030.4" y="994.3" font-size="27.5">IIa</text>
<rect x="1177.6" y="974.3" width="46.4" height="20.6" fill="#287a48"/>
<text x="1230.6" y="995.3" font-size="27.5">IIb</text>
<rect x="1375.2" y="973.3" width="46.4" height="20.6" fill="#7b753c"/>
<text x="1430.4" y="994.3" font-size="27.5">IIc</text>
<rect x="1575.5" y="973.3" width="46.4" height="20.6" fill="#8bb3c0"/>
<text x="1630.4" y="994.3" font-size="27.5">IIe</text>
<rect x="1776.3" y="973.0" width="46.4" height="20.6" fill="#55c80f"/>
<text x="1830.4" y="994.0" font-size="27.5">IIf</text>
<rect x="576.7" y="1007.2" width="46.4" height="20.6" fill="#ff760d"/>
<text x="630.5" y="1028.5" font-size="27.5">IIIa</text>
<rect x="776.6" y="1006.9" width="46.4" height="20.6" fill="#c01e2b"/>
<text x="830.2" y="1028.2" font-size="27.5">IIIb</text>
<rect x="977.4" y="1006.7" width="46.4" height="20.6" fill="#12387a"/>
<text x="1031.2" y="1028.0" font-size="27.5">VII</text>
<rect x="1177.1" y="1007.5" width="46.4" height="20.6" fill="#f962f8"/>
<text x="1230.6" y="1028.8" font-size="27.5">IX</text>
<rect x="1375.2" y="1006.7" width="46.4" height="20.6" fill="#7aa7c2"/>
<text x="1431.6" y="1028.0" font-size="27.5">WPC1</text>
<rect x="1575.0" y="1006.6" width="46.4" height="20.6" fill="#929292"/>
<text x="1631.6" y="1027.9" font-size="27.5">Unclassified</text>
<rect x="231.8" y="1046.4" width="46.6" height="20.6" fill="#7c7c7c"/>
<text x="295.4" y="1067.0" font-size="27.5">Unclassified Cyanobacteria</text>
</svg></body></html>
